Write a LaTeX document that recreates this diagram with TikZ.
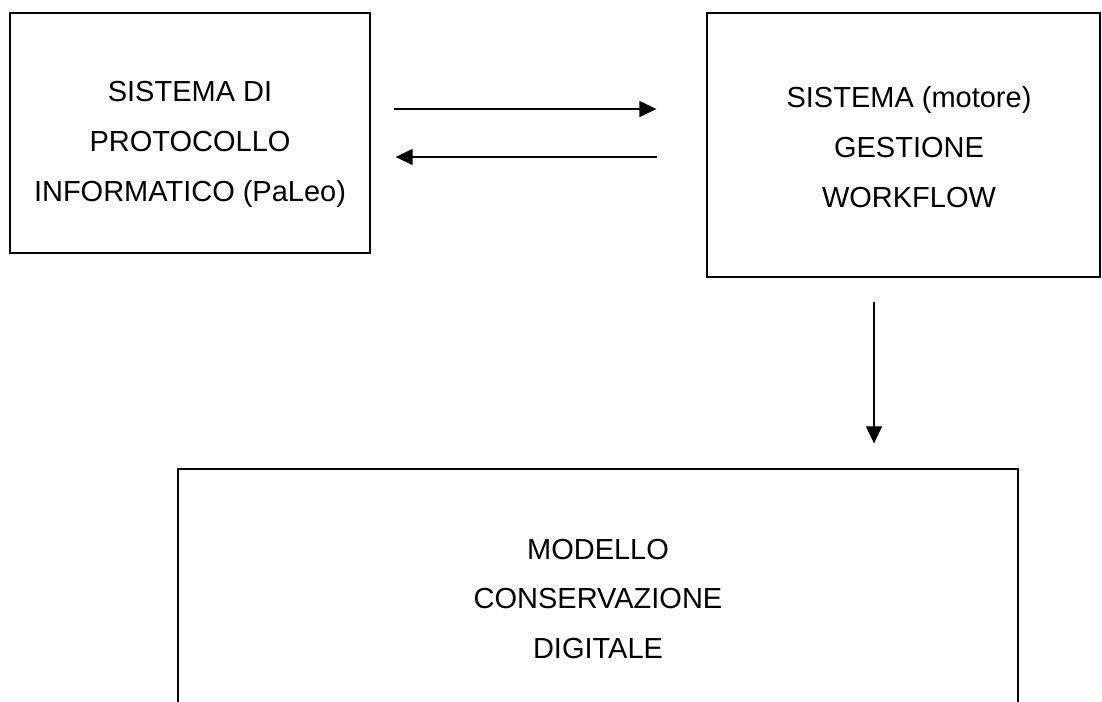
\documentclass[tikz,border=0pt]{standalone}
\usepackage{fontspec}
\setmainfont{Liberation Sans}
\usetikzlibrary{arrows.meta}

\tikzset{
  block/.style={draw, line width=0.8pt, inner sep=0pt},
  blocktext/.style={align=center, font=\fontsize{16.5}{28.45}\selectfont},
  flow/.style={line width=0.8pt, -{Triangle[length=0.34cm, width=0.32cm]}}
}

\begin{document}
\begin{tikzpicture}[x=0.02cm, y=-0.02cm]

        % Page frame (pixel grid of the reference)
        \useasboundingbox (0,0) rectangle (1102,701);
        \clip (0,0) rectangle (1102,701);

        % The three blocks
        \node[block, minimum width=7.2cm, minimum height=4.8cm] (proto) at (190,133) {};
        \node[block, minimum width=7.86cm, minimum height=5.28cm] (wf) at (903.5,145) {};
        \node[block, minimum width=16.8cm, minimum height=5.22cm] (cons) at (598,599.5) {};

        % Texts of the blocks
        \node[blocktext] (protot) at (190,144) {SISTEMA DI\\PROTOCOLLO\\INFORMATICO (PaLeo)};
        \node[blocktext] (wft) at (909,147) {SISTEMA (motore)\\GESTIONE\\WORKFLOW};
        \node[blocktext] (const) at (598,599) {MODELLO\\CONSERVAZIONE\\DIGITALE};

        % Exchange between protocol and workflow
        \draw[flow, shorten <=0.46cm, shorten >=1cm]
          ([yshift=0.48cm]proto.east) -- ([yshift=0.48cm]proto.east -| wf.west);
        \draw[flow, shorten <=0.98cm, shorten >=0.5cm]
          ([yshift=-0.48cm]proto.east -| wf.west) -- ([yshift=-0.48cm]proto.east);

        % Workflow down to conservation
        \draw[flow, shorten <=0.48cm, shorten >=0.5cm]
          ([xshift=-0.59cm]wf.south) -- ([xshift=-0.59cm]wf.south |- cons.north);

\end{tikzpicture}
\end{document}
